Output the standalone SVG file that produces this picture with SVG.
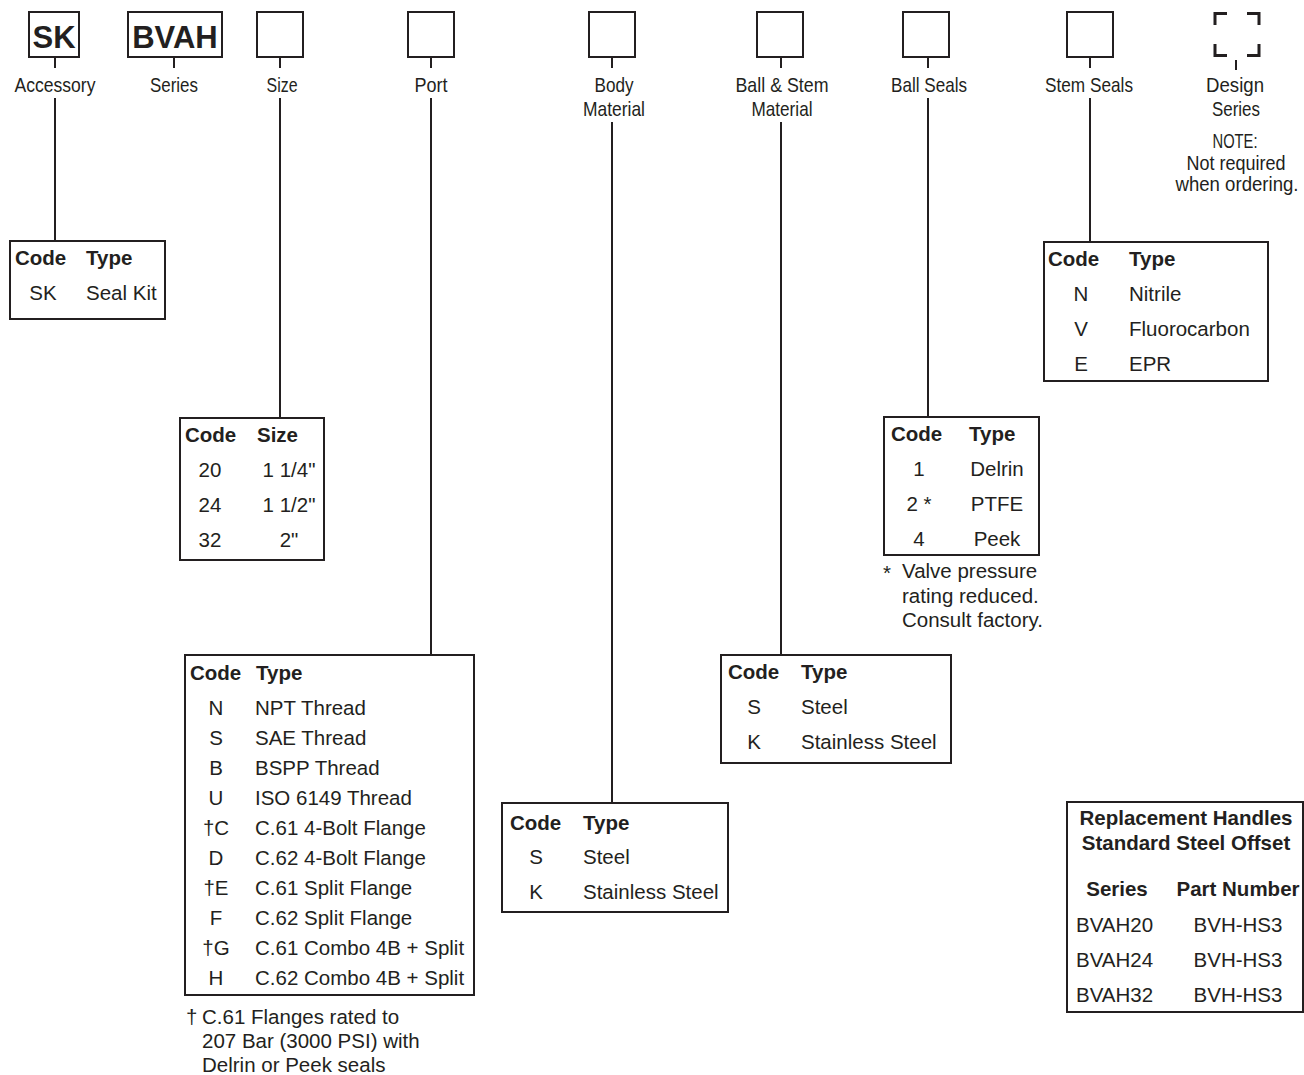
<svg xmlns="http://www.w3.org/2000/svg" width="1304" height="1075" viewBox="0 0 1304 1075">
<style>
.ln{stroke:#231f20;stroke-width:2;fill:none}
.bx{stroke:#231f20;stroke-width:2;fill:#fff}
text{font-family:"Liberation Sans",Arial,sans-serif;fill:#231f20;font-size:20.5px}
.lb{font-size:21px;text-anchor:middle}
.b{font-weight:bold}
.m{text-anchor:middle}
.big{font-size:31px;font-weight:bold;text-anchor:middle}
.ds{stroke:#231f20;stroke-width:3;fill:none}
</style>
<rect width="1304" height="1075" fill="#fff"/>
<g id="connectors">
<line class="ln" x1="55" y1="57" x2="55" y2="68"/>
<line class="ln" x1="55" y1="98" x2="55" y2="241"/>
<line class="ln" x1="174" y1="57" x2="174" y2="68"/>
<line class="ln" x1="280" y1="57" x2="280" y2="68"/>
<line class="ln" x1="280" y1="98" x2="280" y2="417"/>
<line class="ln" x1="431" y1="57" x2="431" y2="68"/>
<line class="ln" x1="431" y1="98" x2="431" y2="654"/>
<line class="ln" x1="612" y1="57" x2="612" y2="68"/>
<line class="ln" x1="612" y1="122" x2="612" y2="803"/>
<line class="ln" x1="781" y1="57" x2="781" y2="68"/>
<line class="ln" x1="781" y1="122" x2="781" y2="654"/>
<line class="ln" x1="928" y1="57" x2="928" y2="68"/>
<line class="ln" x1="928" y1="98" x2="928" y2="417"/>
<line class="ln" x1="1090" y1="57" x2="1090" y2="68"/>
<line class="ln" x1="1090" y1="98" x2="1090" y2="242"/>
<line class="ln" x1="1236" y1="60" x2="1236" y2="70"/>
</g>
<g id="accessory">
<rect class="bx" x="29" y="12" width="50" height="45"/>
<text class="big" x="54" y="48">SK</text>
<text class="lb" x="55" y="92" textLength="81" lengthAdjust="spacingAndGlyphs">Accessory</text>
</g>
<g id="series">
<rect class="bx" x="128" y="12" width="94" height="45"/>
<text class="big" x="175" y="48">BVAH</text>
<text class="lb" x="174" y="92" textLength="48" lengthAdjust="spacingAndGlyphs">Series</text>
</g>
<g id="size">
<rect class="bx" x="257" y="12" width="46" height="45"/>
<text class="lb" x="282" y="92" textLength="31" lengthAdjust="spacingAndGlyphs">Size</text>
</g>
<g id="port">
<rect class="bx" x="408" y="12" width="46" height="45"/>
<text class="lb" x="431" y="92" textLength="33" lengthAdjust="spacingAndGlyphs">Port</text>
</g>
<g id="body-material">
<rect class="bx" x="589" y="12" width="46" height="45"/>
<text class="lb" x="614" y="92" textLength="39" lengthAdjust="spacingAndGlyphs">Body</text>
<text class="lb" x="614" y="116" textLength="62" lengthAdjust="spacingAndGlyphs">Material</text>
</g>
<g id="ball-stem-material">
<rect class="bx" x="757" y="12" width="46" height="45"/>
<text class="lb" x="782" y="92" textLength="93" lengthAdjust="spacingAndGlyphs">Ball &amp; Stem</text>
<text class="lb" x="782" y="116" textLength="61" lengthAdjust="spacingAndGlyphs">Material</text>
</g>
<g id="ball-seals">
<rect class="bx" x="903" y="12" width="46" height="45"/>
<text class="lb" x="929" y="92" textLength="76" lengthAdjust="spacingAndGlyphs">Ball Seals</text>
</g>
<g id="stem-seals">
<rect class="bx" x="1067" y="12" width="46" height="45"/>
<text class="lb" x="1089" y="92" textLength="88" lengthAdjust="spacingAndGlyphs">Stem Seals</text>
</g>
<g id="design-series">
<path class="ds" d="M1215 25V13.5H1227M1247 13.5H1259V25M1215 44V55.5H1227M1247 55.5H1259V44"/>
<text class="lb" x="1235" y="92" textLength="58" lengthAdjust="spacingAndGlyphs">Design</text>
<text class="lb" x="1236" y="116" textLength="48" lengthAdjust="spacingAndGlyphs">Series</text>
<text class="lb" x="1235" y="148" textLength="45" lengthAdjust="spacingAndGlyphs">NOTE:</text>
<text class="lb" x="1236" y="170" textLength="99" lengthAdjust="spacingAndGlyphs">Not required</text>
<text class="lb" x="1237" y="191" textLength="123" lengthAdjust="spacingAndGlyphs">when ordering.</text>
</g>
<g id="accessory-table">
<rect class="bx" x="10" y="241" width="155" height="78"/>
<text class="b" x="15" y="265">Code</text>
<text class="b" x="86" y="265">Type</text>
<text class="m" x="43" y="300">SK</text>
<text x="86" y="300">Seal Kit</text>
</g>
<g id="size-table">
<rect class="bx" x="180" y="418" width="144" height="142"/>
<text class="b" x="185" y="442">Code</text>
<text class="b" x="257" y="442">Size</text>
<text class="m" x="210" y="477">20</text>
<text class="m" x="289" y="477">1 1/4"</text>
<text class="m" x="210" y="512">24</text>
<text class="m" x="289" y="512">1 1/2"</text>
<text class="m" x="210" y="547">32</text>
<text class="m" x="289" y="547">2"</text>
</g>
<g id="port-table">
<rect class="bx" x="185" y="655" width="289" height="340"/>
<text class="b" x="190" y="680">Code</text>
<text class="b" x="256" y="680">Type</text>
<text class="m" x="216" y="715">N</text><text x="255" y="715">NPT Thread</text>
<text class="m" x="216" y="745">S</text><text x="255" y="745">SAE Thread</text>
<text class="m" x="216" y="775">B</text><text x="255" y="775">BSPP Thread</text>
<text class="m" x="216" y="805">U</text><text x="255" y="805">ISO 6149 Thread</text>
<text class="m" x="216" y="835">†C</text><text x="255" y="835">C.61 4-Bolt Flange</text>
<text class="m" x="216" y="865">D</text><text x="255" y="865">C.62 4-Bolt Flange</text>
<text class="m" x="216" y="895">†E</text><text x="255" y="895">C.61 Split Flange</text>
<text class="m" x="216" y="925">F</text><text x="255" y="925">C.62 Split Flange</text>
<text class="m" x="216" y="955">†G</text><text x="255" y="955">C.61 Combo 4B + Split</text>
<text class="m" x="216" y="985">H</text><text x="255" y="985">C.62 Combo 4B + Split</text>
<text x="186" y="1024">†</text>
<text x="202" y="1024">C.61 Flanges rated to</text>
<text x="202" y="1048">207 Bar (3000 PSI) with</text>
<text x="202" y="1072">Delrin or Peek seals</text>
</g>
<g id="body-table">
<rect class="bx" x="502" y="803" width="226" height="109"/>
<text class="b" x="510" y="830">Code</text>
<text class="b" x="583" y="830">Type</text>
<text class="m" x="536" y="864">S</text><text x="583" y="864">Steel</text>
<text class="m" x="536" y="899">K</text><text x="583" y="899">Stainless Steel</text>
</g>
<g id="ball-stem-table">
<rect class="bx" x="721" y="655" width="230" height="108"/>
<text class="b" x="728" y="679">Code</text>
<text class="b" x="801" y="679">Type</text>
<text class="m" x="754" y="714">S</text><text x="801" y="714">Steel</text>
<text class="m" x="754" y="749">K</text><text x="801" y="749">Stainless Steel</text>
</g>
<g id="ball-seals-table">
<rect class="bx" x="884" y="417" width="155" height="138"/>
<text class="b" x="891" y="441">Code</text>
<text class="b" x="969" y="441">Type</text>
<text class="m" x="919" y="476">1</text><text class="m" x="997" y="476">Delrin</text>
<text class="m" x="919" y="511">2 *</text><text class="m" x="997" y="511">PTFE</text>
<text class="m" x="919" y="546">4</text><text class="m" x="997" y="546">Peek</text>
<text x="883" y="580">*</text>
<text x="902" y="578">Valve pressure</text>
<text x="902" y="603">rating reduced.</text>
<text x="902" y="627">Consult factory.</text>
</g>
<g id="stem-seals-table">
<rect class="bx" x="1044" y="242" width="224" height="139"/>
<text class="b" x="1048" y="266">Code</text>
<text class="b" x="1129" y="266">Type</text>
<text class="m" x="1081" y="301">N</text><text x="1129" y="301">Nitrile</text>
<text class="m" x="1081" y="336">V</text><text x="1129" y="336">Fluorocarbon</text>
<text class="m" x="1081" y="371">E</text><text x="1129" y="371">EPR</text>
</g>
<g id="replacement-handles">
<rect class="bx" x="1067" y="802" width="236" height="210"/>
<text class="b m" x="1186" y="825">Replacement Handles</text>
<text class="b m" x="1186" y="850">Standard Steel Offset</text>
<text class="b m" x="1117" y="896">Series</text>
<text class="b m" x="1238" y="896">Part Number</text>
<text x="1076" y="932">BVAH20</text><text class="m" x="1238" y="932">BVH-HS3</text>
<text x="1076" y="967">BVAH24</text><text class="m" x="1238" y="967">BVH-HS3</text>
<text x="1076" y="1002">BVAH32</text><text class="m" x="1238" y="1002">BVH-HS3</text>
</g>
</svg>
